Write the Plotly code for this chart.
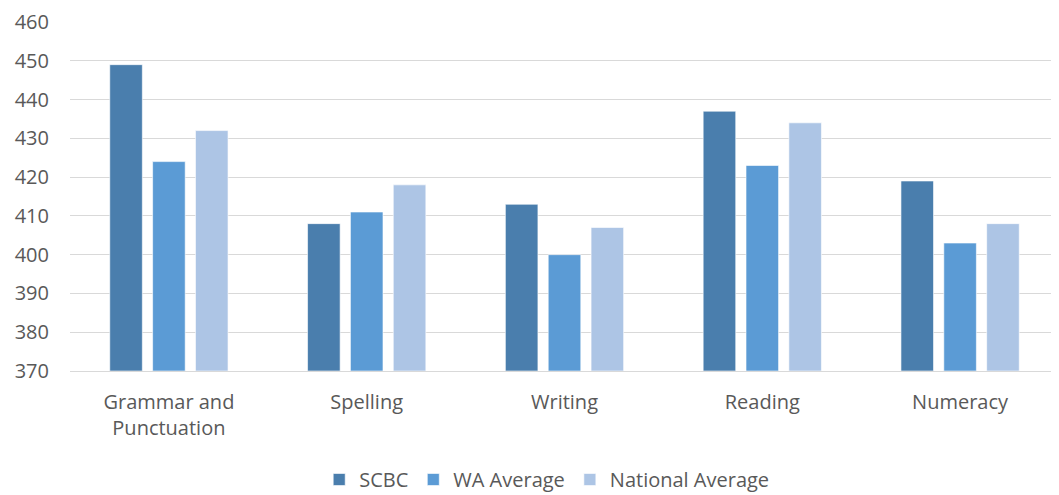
import plotly.graph_objects as go

categories = ["Grammar and<br>Punctuation", "Spelling", "Writing", "Reading", "Numeracy"]
scbc = [449, 408, 413, 437, 419]
wa_avg = [424, 411, 400, 423, 403]
nat_avg = [432, 418, 407, 434, 408]
y_ticks = [370, 380, 390, 400, 410, 420, 430, 440, 450, 460]

series = [("SCBC", scbc, "#4a7ead"), ("WA Average", wa_avg, "#5b9bd5"), ("National Average", nat_avg, "#adc5e5")]

fig = go.Figure()
for name, vals, col in series:
    fig.add_trace(go.Bar(
        x=categories, y=[v - 370 for v in vals], base=370, name=name,
        marker=dict(color=col, line=dict(color="rgba(255,255,255,0.6)", width=1)),
    ))

font = "Open Sans, Lato, sans-serif"
fig.update_layout(
    width=1051, height=487,
    margin=dict(l=62, r=0, t=14, b=124, autoexpand=False),
    paper_bgcolor="white", plot_bgcolor="white",
    barmode="group", bargap=0.35, bargroupgap=0.24,
    font=dict(family=font, size=18, color="#595959"),
    showlegend=True,
    legend=dict(orientation="h", x=0.482, xanchor="center", y=-0.255, yanchor="top",
                font=dict(size=20, color="#595959"), itemwidth=30, traceorder="normal"),
    xaxis=dict(showgrid=False, showline=True, linecolor="#d9d9d9", linewidth=1,
               tickfont=dict(size=20, color="#595959"), ticks="", ticklabelstandoff=13,
               automargin=False),
    yaxis=dict(range=[370, 460], tickvals=y_ticks, showgrid=True, gridcolor="#d9d9d9",
               gridwidth=1, zeroline=False, showline=False, ticks="",
               tickfont=dict(size=20, color="#595959"), ticklabelstandoff=20,
               automargin=False),
)
fig.write_html("out.html")
